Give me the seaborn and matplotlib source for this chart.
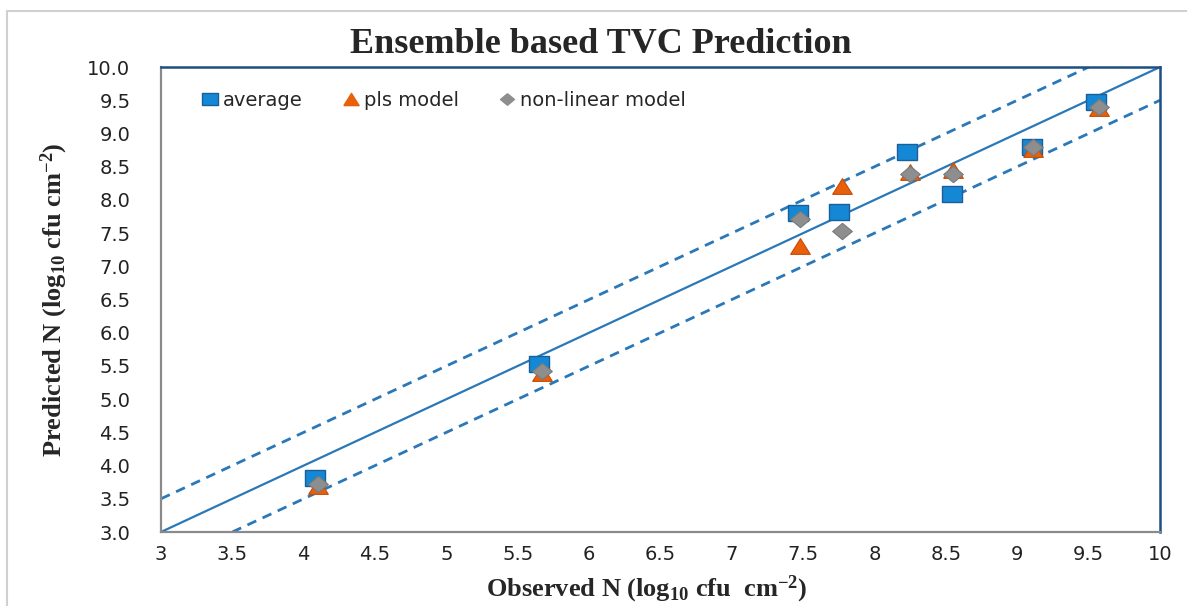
import numpy as np
import pandas as pd
import matplotlib
matplotlib.use("Agg")
import matplotlib.pyplot as plt
from matplotlib.patches import Rectangle
from matplotlib.lines import Line2D
import seaborn as sns

# Observed vs predicted log10 counts for the three predictors
observed = [4.08, 5.65, 7.46, 7.75, 8.23, 8.54, 9.10, 9.55]
avg_pred = [3.82, 5.53, 7.80, 7.82, 8.72, 8.09, 8.80, 9.47]

observed_models = [4.10, 5.67, 7.48, 7.77, 8.25, 8.55, 9.11, 9.57]
pls_pred = [3.70, 5.40, 7.31, 8.21, 8.42, 8.45, 8.76, 9.38]
nonlin_pred = [3.73, 5.43, 7.71, 7.53, 8.39, 8.39, 8.80, 9.40]

# Reference line y = x and +/- 0.5 log band
ref_x = np.array([3.0, 10.0])
band = 0.5

x_ticks = [3, 3.5, 4, 4.5, 5, 5.5, 6, 6.5, 7, 7.5, 8, 8.5, 9, 9.5, 10]
y_ticks = [3.0, 3.5, 4.0, 4.5, 5.0, 5.5, 6.0, 6.5, 7.0, 7.5, 8.0, 8.5, 9.0, 9.5, 10.0]

sns.set_theme(style="white")
plt.rcParams["font.family"] = ["DejaVu Sans"]
plt.rcParams["mathtext.fontset"] = "custom"
plt.rcParams["mathtext.rm"] = "Liberation Serif:bold"
plt.rcParams["mathtext.bf"] = "Liberation Serif:bold"
plt.rcParams["mathtext.it"] = "Liberation Serif:bold"

# slightly wide marker shapes
sq = [(-1.3, -1), (1.3, -1), (1.3, 1), (-1.3, 1), (-1.3, -1)]
tri = [(-1.25, -1), (1.25, -1), (0, 1), (-1.25, -1)]
dia = [(0, 1), (1.2, 0), (0, -1), (-1.2, 0), (0, 1)]

fig = plt.figure(figsize=(11.87, 6.06), dpi=100)
ax = fig.add_axes([0.1356, 0.1221, 0.8417, 0.7673])

line_col = "#2a78b8"
ax.plot(ref_x, ref_x, color=line_col, lw=1.6, zorder=1)
ax.plot([ref_x[0], ref_x[1] - band], [ref_x[0] + band, ref_x[1]],
        color=line_col, lw=2.0, ls=(0, (3.5, 2.5)), zorder=1)
ax.plot([ref_x[0] + band, ref_x[1]], [ref_x[0], ref_x[1] - band],
        color=line_col, lw=2.0, ls=(0, (3.5, 2.5)), zorder=1)

df_avg = pd.DataFrame({"obs": observed, "pred": avg_pred})
df_pls = pd.DataFrame({"obs": observed_models, "pred": pls_pred})
df_nl = pd.DataFrame({"obs": observed_models, "pred": nonlin_pred})

blue = "#1488d4"
orange = "#e8600c"
grey = "#8e8e8e"

sns.scatterplot(data=df_avg, x="obs", y="pred", marker=sq, s=210,
                color=blue, edgecolor="#1a5e9a", linewidth=1.0, ax=ax, zorder=3)
sns.scatterplot(data=df_pls, x="obs", y="pred", marker=tri, s=200,
                color=orange, edgecolor="#c84a05", linewidth=0.8, ax=ax, zorder=4)
sns.scatterplot(data=df_nl, x="obs", y="pred", marker=dia, s=200,
                color=grey, edgecolor="#7a7a7a", linewidth=0.8, ax=ax, zorder=5)

ax.set_xlim(3, 10)
ax.set_ylim(3, 10)
ax.set_xticks(x_ticks)
ax.set_xticklabels([f"{t:g}" for t in x_ticks])
ax.set_yticks(y_ticks)
ax.set_yticklabels([f"{t:.1f}" for t in y_ticks])
ax.tick_params(axis="both", length=0, labelsize=14, colors="#222222")
ax.tick_params(axis="x", pad=9)
ax.tick_params(axis="y", pad=22)
ax.set_xlabel("")
ax.set_ylabel("")

for side in ("left", "bottom"):
    ax.spines[side].set_color("#8a8a8a")
    ax.spines[side].set_linewidth(1.6)
for side in ("top", "right"):
    ax.spines[side].set_color("#1f4f80")
    ax.spines[side].set_linewidth(1.8)

handles = [
    Line2D([], [], marker=sq, ls="", color=blue, markeredgecolor="#1a5e9a", markersize=11),
    Line2D([], [], marker=tri, ls="", color=orange, markersize=11),
    Line2D([], [], marker=dia, ls="", color=grey, markersize=10),
]
ax.legend(handles, ["average", "pls model", "non-linear model"], loc="center left",
          ncol=3, frameon=False, fontsize=14, bbox_to_anchor=(0.022, 0.929),
          handletextpad=0.15, columnspacing=2.0, handlelength=1.0)

serif = ["Liberation Serif", "DejaVu Serif"]
fig.text(0.506, 0.926, "Ensemble based TVC Prediction", ha="center", va="center",
         fontsize=26, fontweight="bold", family=serif)
fig.text(0.545, 0.028, r"Observed N (log$_{10}$ cfu  cm$^{-2}$)",
         ha="center", va="center", fontsize=19, fontweight="bold", family=serif)
fig.text(0.046, 0.505, r"Predicted N (log$_{10}$ cfu cm$^{-2}$)",
         ha="center", va="center", rotation=90, fontsize=19, fontweight="bold",
         family=serif)

# light outer frame around the figure
fig.patches.append(Rectangle((7 / 1187, -0.05), 1.1, 1 - 11 / 606 + 0.05,
                             transform=fig.transFigure, fill=False,
                             edgecolor="#d0d0d0", lw=1.5))

fig.savefig("out.png", dpi=100)
